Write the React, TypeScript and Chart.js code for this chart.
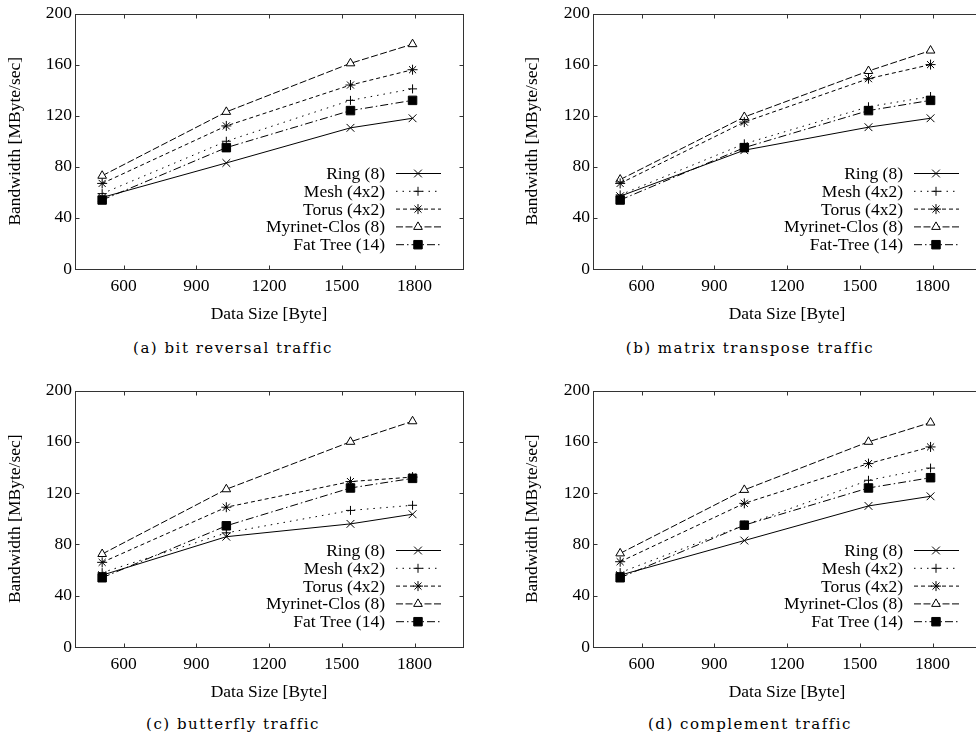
import React, { useEffect, useRef } from "react";
import { Chart, registerables } from "chart.js";
import { drawPoint } from "chart.js/helpers";

Chart.register(...registerables);

// ---------- data ----------
const dataSizes = [512, 1024, 1536, 1792];
const xTickValues = [600, 900, 1200, 1500, 1800];
const yTickValues = [0, 40, 80, 120, 160, 200];

const seriesLabels = ["Ring (8)", "Mesh (4x2)", "Torus (4x2)", "Myrinet-Clos (8)", "Fat Tree (14)"];
const seriesLabelsB = ["Ring (8)", "Mesh (4x2)", "Torus (4x2)", "Myrinet-Clos (8)", "Fat-Tree (14)"];

// (a) bit reversal
const bitRevRing = [56, 83, 110.5, 118];
const bitRevMesh = [59, 100, 132, 141];
const bitRevTorus = [67, 112, 144, 156];
const bitRevMyrinet = [73, 123, 161, 176];
const bitRevFatTree = [54, 95, 124, 132];

// (b) matrix transpose
const transRing = [57, 93, 111, 118];
const transMesh = [58, 98, 127, 135];
const transTorus = [67, 115, 149, 160];
const transMyrinet = [70, 119, 155, 171];
const transFatTree = [54, 95, 124, 132];

// (c) butterfly
const butterRing = [56, 86, 96, 103.5];
const butterMesh = [58, 89, 106.5, 110.5];
const butterTorus = [66, 109, 129, 132.5];
const butterMyrinet = [72.5, 123, 160, 176];
const butterFatTree = [54, 94.5, 124, 131.5];

// (d) complement
const compRing = [56, 83, 110, 117.5];
const compMesh = [58, 95, 130, 139.5];
const compTorus = [66.5, 112, 143, 156];
const compMyrinet = [73, 122.5, 160, 175];
const compFatTree = [54, 95, 124, 132];

const captions = ["(a) bit reversal traffic", "(b) matrix transpose traffic", "(c) butterfly traffic", "(d) complement traffic"];

// ---------- styles ----------
const seriesStyles = [
  { dash: [], pointStyle: "crossRot", radius: 5.5, fill: "#000" },
  { dash: [1.5, 5], pointStyle: "cross", radius: 4.5, fill: "#000" },
  { dash: [4, 3], pointStyle: "star", radius: 5, fill: "#000" },
  { dash: [7, 2.5], pointStyle: "triangle", radius: 5, fill: "#fff" },
  { dash: [8, 3, 1.5, 3], pointStyle: "rect", radius: 6, fill: "#000" },
];

const FONT = "'Liberation Serif', 'Times New Roman', serif";
const FS = 17.5;

const framePlugin = {
  id: "frameTicks",
  afterDraw(chart: any) {
    const { ctx, chartArea: a } = chart;
    const xs = chart.scales.x;
    const ys = chart.scales.y;
    ctx.save();
    ctx.strokeStyle = "#333";
    ctx.lineWidth = 1;
    ctx.setLineDash([]);
    const L = Math.round(a.left) + 0.5;
    const R = Math.round(a.right) + 0.5;
    const T = Math.round(a.top) + 0.5;
    const B = Math.round(a.bottom) + 0.5;
    ctx.strokeRect(L, T, R - L, B - T);
    ctx.beginPath();
    xTickValues.forEach((v) => {
      const x = Math.round(xs.getPixelForValue(v)) + 0.5;
      ctx.moveTo(x, B);
      ctx.lineTo(x, B - 4);
      ctx.moveTo(x, T);
      ctx.lineTo(x, T + 4);
    });
    yTickValues.forEach((v) => {
      const y = Math.round(ys.getPixelForValue(v)) + 0.5;
      ctx.moveTo(L, y);
      ctx.lineTo(L + 4, y);
      ctx.moveTo(R, y);
      ctx.lineTo(R - 4, y);
    });
    ctx.stroke();

    // legend (text right-aligned, sample on the right)
    ctx.font = `${FS}px ${FONT}`;
    ctx.fillStyle = "#000";
    ctx.textAlign = "right";
    ctx.textBaseline = "middle";
    chart.data.datasets.forEach((ds: any, i: number) => {
      const y = a.top + 160 + i * 17.8;
      ctx.fillText(ds.label, a.right - 78, y + 1);
      ctx.save();
      ctx.strokeStyle = "#000";
      ctx.lineWidth = 1;
      ctx.setLineDash(ds.borderDash || []);
      ctx.beginPath();
      ctx.moveTo(a.right - 67, y);
      ctx.lineTo(a.right - 22, y);
      ctx.stroke();
      ctx.setLineDash([]);
      ctx.fillStyle = ds.pointBackgroundColor;
      ctx.strokeStyle = "#000";
      drawPoint(ctx, { pointStyle: ds.pointStyle, radius: ds.pointRadius, rotation: 0, borderWidth: 1 }, a.right - 45, y);
      ctx.restore();
    });
    ctx.restore();
  },
};

type PanelDef = {
  left: number;
  top: number;
  width: number;
  height: number;
  yAxisWidth: number;
  padRight: number;
  plotHeight: number;
  labels: string[];
  series: number[][];
  caption: string;
  captionX: number;
  captionY: number;
};

const panels: PanelDef[] = [
  {
    left: 0, top: 0, width: 488, height: 330, yAxisWidth: 75, padRight: 25, plotHeight: 257,
    labels: seriesLabels,
    series: [bitRevRing, bitRevMesh, bitRevTorus, bitRevMyrinet, bitRevFatTree],
    caption: captions[0], captionX: 233, captionY: 348,
  },
  {
    left: 517, top: 0, width: 491, height: 330, yAxisWidth: 76, padRight: 27, plotHeight: 257,
    labels: seriesLabelsB,
    series: [transRing, transMesh, transTorus, transMyrinet, transFatTree],
    caption: captions[1], captionX: 750, captionY: 348,
  },
  {
    left: 0, top: 377, width: 488, height: 331, yAxisWidth: 75, padRight: 25, plotHeight: 258,
    labels: seriesLabels,
    series: [butterRing, butterMesh, butterTorus, butterMyrinet, butterFatTree],
    caption: captions[2], captionX: 233, captionY: 724,
  },
  {
    left: 517, top: 377, width: 491, height: 331, yAxisWidth: 76, padRight: 27, plotHeight: 258,
    labels: seriesLabels,
    series: [compRing, compMesh, compTorus, compMyrinet, compFatTree],
    caption: captions[3], captionX: 750, captionY: 724,
  },
];

function Panel({ p }: { p: PanelDef }) {
  const ref = useRef<HTMLCanvasElement | null>(null);
  useEffect(() => {
    if (!ref.current) return;
    const xAxisHeight = p.height - 12 - p.plotHeight;
    const chart = new Chart(ref.current, {
      type: "line",
      data: {
        datasets: p.series.map((vals, i) => ({
          label: p.labels[i],
          data: dataSizes.map((x, j) => ({ x, y: vals[j] })),
          borderColor: "#000",
          borderWidth: 1,
          borderDash: seriesStyles[i].dash,
          pointStyle: seriesStyles[i].pointStyle as any,
          pointRadius: seriesStyles[i].radius,
          pointBorderColor: "#000",
          pointBorderWidth: 1,
          pointBackgroundColor: seriesStyles[i].fill,
          tension: 0,
          fill: false,
        })),
      },
      options: {
        animation: false,
        responsive: false,
        maintainAspectRatio: false,
        devicePixelRatio: 1,
        layout: { padding: { top: 12, right: p.padRight, left: 0, bottom: 0 } },
        plugins: { legend: { display: false }, tooltip: { enabled: false } },
        scales: {
          x: {
            type: "linear",
            min: 400,
            max: 2000,
            afterBuildTicks: (s: any) => {
              s.ticks = xTickValues.map((v) => ({ value: v }));
            },
            afterFit: (s: any) => {
              s.height = xAxisHeight;
            },
            grid: { display: false, drawTicks: false },
            border: { display: false },
            ticks: {
              padding: 7,
              color: "#000",
              font: { family: FONT, size: FS },
              maxRotation: 0,
              autoSkip: false,
              callback: (v: any) => String(v),
            },
            title: {
              display: true,
              text: "Data Size [Byte]",
              color: "#000",
              font: { family: FONT, size: FS },
              padding: { top: 0, bottom: 5 },
            },
          },
          y: {
            type: "linear",
            min: 0,
            max: 200,
            afterBuildTicks: (s: any) => {
              s.ticks = yTickValues.map((v) => ({ value: v }));
            },
            afterFit: (s: any) => {
              s.width = p.yAxisWidth;
            },
            grid: { display: false, drawTicks: false },
            border: { display: false },
            ticks: { padding: 3, color: "#000", font: { family: FONT, size: FS }, callback: (v: any) => String(v) },
            title: {
              display: true,
              text: "Bandwidth [MByte/sec]",
              color: "#000",
              font: { family: FONT, size: FS },
              padding: { top: 5, bottom: 0 },
            },
          },
        },
      },
      plugins: [framePlugin],
    } as any);
    return () => chart.destroy();
  }, [p]);

  return (
    <>
      <div style={{ position: "absolute", left: p.left, top: p.top, width: p.width, height: p.height }}>
        <canvas ref={ref} width={p.width} height={p.height} style={{ width: p.width, height: p.height, display: "block" }} />
      </div>
      <div
        style={{
          position: "absolute",
          left: p.captionX - 200,
          width: 400,
          top: p.captionY - 11,
          textAlign: "center",
          fontFamily: "'DejaVu Serif', serif",
          fontSize: 15,
          letterSpacing: "1.5px",
          lineHeight: "22px",
          color: "#000",
          whiteSpace: "nowrap",
        }}
      >
        {p.caption}
      </div>
    </>
  );
}

export default function App() {
  return (
    <div style={{ position: "fixed", left: 0, top: 0, width: 976, height: 736, overflow: "hidden", background: "#fff" }}>
      {panels.map((p, i) => (
        <Panel key={i} p={p} />
      ))}
    </div>
  );
}
